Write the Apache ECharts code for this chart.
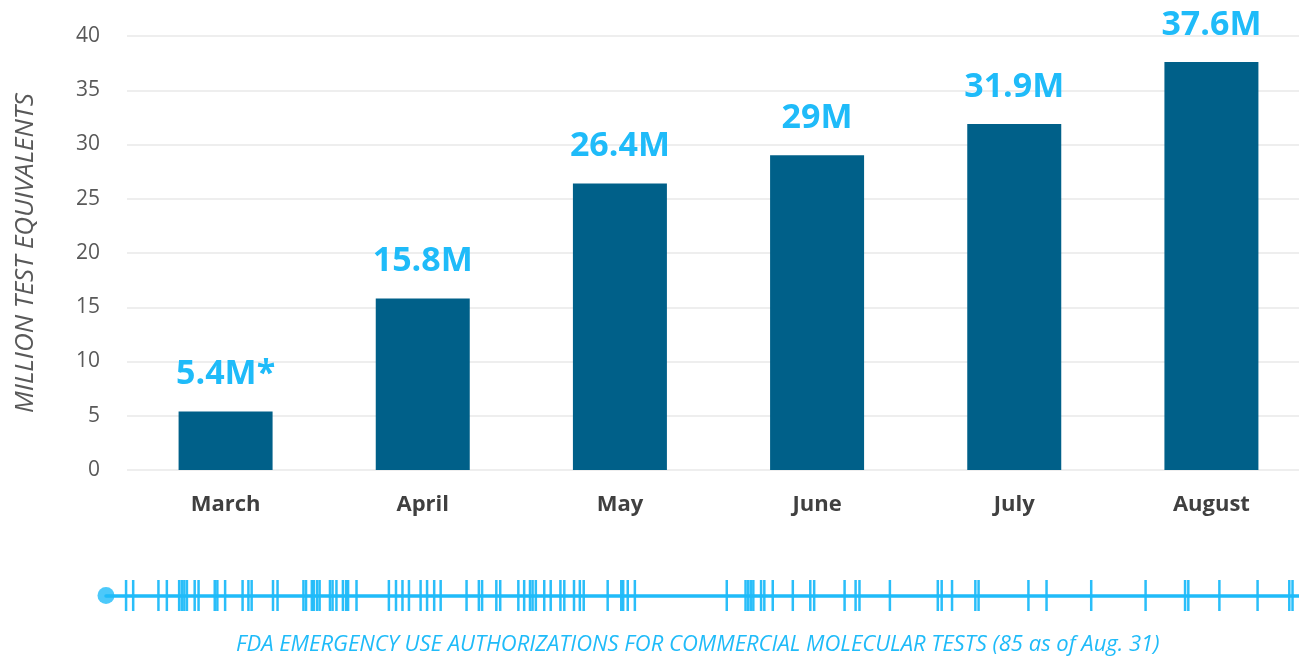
<!DOCTYPE html>
<html><head><meta charset="utf-8">
<script src="https://cdn.jsdelivr.net/npm/echarts@6/dist/echarts.min.js"></script>
<style>html,body{margin:0;padding:0;background:#fff}#c{width:1299px;height:657px}</style>
</head><body><div id="c"></div>
<script>
const months = ['March','April','May','June','July','August'];
const testsMillions = [5.4, 15.8, 26.4, 29, 31.9, 37.6];
const barLabels = ['5.4M*','15.8M','26.4M','29M','31.9M','37.6M'];
const yTicks = [0,5,10,15,20,25,30,35,40];
// EUA dates, in days after the start of the timeline (start dot = day 0, Aug. 31 = day 184)
const euaDays = [3.1,4.2,8.1,9.4,11.3,11.7,12.1,12.5,13.7,14.3,16.8,17.2,18.4,21.1,22.0,22.5,25.8,26.5,
  30.5,30.9,31.8,32.1,32.6,33.0,34.6,35.0,35.6,36.6,37.1,37.4,38.7,
  43.7,44.8,45.8,46.8,48.6,49.6,50.7,51.7,55.7,57.6,58.1,60.3,60.9,63.7,64.6,65.5,65.9,66.4,67.7,68.7,
  70.2,70.8,72.3,73.2,73.8,77.5,79.6,79.9,80.6,81.7,
  95.9,98.8,99.2,99.6,100.0,101.2,101.7,103.0,106.1,108.8,109.4,114.1,115.8,116.4,121.1,128.5,129.1,130.7,134.3,134.8,
  142.5,145.3,152.2,160.6,166.7,167.2,172.0,177.9,182.8,183.3];
const footer = 'FDA EMERGENCY USE AUTHORIZATIONS FOR COMMERCIAL MOLECULAR TESTS (85 as of Aug. 31)';

const FONT = '"Open Sans", sans-serif';
const LIGHT = '#1fbbf9';
const chart = echarts.init(document.getElementById('c'));
chart.setOption({
  animation: false,
  textStyle: {fontFamily: FONT},
  title: {
    text: footer, left: 231, top: 629,
    textStyle: {fontFamily: FONT, fontStyle: 'italic', fontWeight: 'normal', fontSize: 22, color: LIGHT}
  },
  grid: [
    {left: 127, width: 1183, top: 36, height: 434, containLabel: false, outerBoundsMode: 'none'},
    {left: 106, right: 0, top: 580, height: 31, outerBoundsMode: 'none'}
  ],
  xAxis: [
    {type: 'category', gridIndex: 0, data: months,
     axisLine: {show: false}, axisTick: {show: false},
     axisLabel: {fontFamily: FONT, fontWeight: 'bold', fontSize: 22, color: '#404040', margin: 24}},
    {type: 'value', gridIndex: 1, min: 0, max: 184.3,
     axisLine: {show: true, onZero: true, lineStyle: {color: LIGHT, width: 3.5}},
     axisTick: {show: false}, axisLabel: {show: false}, splitLine: {show: false}}
  ],
  yAxis: [
    {type: 'value', gridIndex: 0, min: yTicks[0], max: yTicks[yTicks.length-1], interval: 5,
     name: 'MILLION TEST EQUIVALENTS', nameLocation: 'middle', nameGap: 88, nameRotate: 90,
     nameTextStyle: {fontFamily: FONT, fontStyle: 'italic', fontSize: 26, color: '#595959'},
     axisLine: {show: false}, axisTick: {show: false},
     axisLabel: {fontFamily: FONT, fontSize: 21, color: '#595959', margin: 27},
     splitLine: {lineStyle: {color: '#e8e8e8', width: 1.5}}},
    {type: 'value', gridIndex: 1, min: -1, max: 1, show: false}
  ],
  series: [
    {type: 'bar', xAxisIndex: 0, yAxisIndex: 0, data: testsMillions, barWidth: 94,
     itemStyle: {color: '#006089'},
     label: {show: true, position: 'top', distance: 20,
       formatter: p => barLabels[p.dataIndex],
       fontFamily: FONT, fontWeight: 'bold', fontSize: 34, color: LIGHT}},
    {type: 'scatter', xAxisIndex: 1, yAxisIndex: 1, symbol: 'rect', symbolSize: [2.5, 31],
     data: euaDays.map(d => [d, 0]), itemStyle: {color: LIGHT, opacity: 0.95}, silent: true},
    {type: 'scatter', xAxisIndex: 1, yAxisIndex: 1, symbol: 'circle', symbolSize: 17,
     data: [[0, 0]], itemStyle: {color: LIGHT}, silent: true}
  ]
});
</script></body></html>
